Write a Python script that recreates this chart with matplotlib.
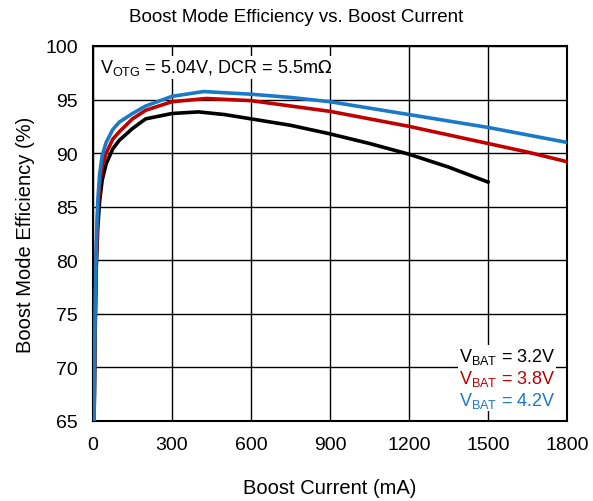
import matplotlib.pyplot as plt

plt.rcParams['font.family'] = ['Liberation Sans', 'DejaVu Sans']

# boost current (mA) and efficiency (%)
cur_32 = [4, 8, 12, 18, 25, 35, 50, 75, 100, 150, 200, 300, 400, 500, 600, 750, 900, 1050, 1200, 1350, 1500]
eff_32 = [65, 73, 79, 83, 85.5, 87.5, 89.0, 90.4, 91.2, 92.3, 93.2, 93.7, 93.85, 93.6, 93.2, 92.6, 91.8, 90.9, 89.9, 88.7, 87.3]

cur_38 = [4, 8, 12, 18, 25, 35, 50, 75, 100, 150, 200, 300, 430, 600, 750, 900, 1050, 1200, 1350, 1500, 1650, 1800]
eff_38 = [65, 74, 80, 84.5, 87, 88.8, 90.0, 91.3, 92.0, 93.2, 94.0, 94.8, 95.1, 94.9, 94.4, 93.9, 93.2, 92.5, 91.7, 90.9, 90.1, 89.2]

cur_42 = [4, 8, 12, 18, 25, 35, 50, 75, 100, 150, 200, 300, 420, 600, 750, 900, 1050, 1200, 1350, 1500, 1650, 1800]
eff_42 = [65, 75, 81, 85.5, 88, 89.8, 91.0, 92.2, 92.9, 93.7, 94.4, 95.3, 95.75, 95.5, 95.2, 94.8, 94.2, 93.6, 93.0, 92.4, 91.7, 91.0]

x_ticks = [0, 300, 600, 900, 1200, 1500, 1800]
y_ticks = [65, 70, 75, 80, 85, 90, 95, 100]

fig = plt.figure(figsize=(5.93, 5.02), dpi=100)
ax = fig.add_axes([93 / 593, 1 - 422 / 502, 474 / 593, 375 / 502])

ax.plot(cur_32, eff_32, color='black', lw=2.6, zorder=3)
ax.plot(cur_38, eff_38, color='#c00000', lw=2.6, zorder=4)
ax.plot(cur_42, eff_42, color='#1a7ac8', lw=2.6, zorder=5)

ax.set_xlim(0, 1800)
ax.set_ylim(65, 100)
ax.set_xticks(x_ticks)
ax.set_yticks(y_ticks)
ax.tick_params(labelsize=14, length=0)
ax.tick_params(axis='x', pad=11)
ax.tick_params(axis='y', pad=11)
ax.grid(True, color='black', lw=1)
for s in ax.spines.values():
    s.set_linewidth(1.5)

# title sits centred on the figure, not the axes
fig.text(0.5, 1 - 17 / 502, 'Boost Mode Efficiency vs. Boost Current', fontsize=13.5,
         ha='center', va='center')
ax.set_xlabel('Boost Current (mA)', fontsize=14.5, labelpad=18)
ax.set_ylabel('Boost Mode Efficiency (%)', fontsize=14.5, labelpad=7)

ax.text(0.015, 0.97, r'V$_{\mathregular{OTG}}$ = 5.04V, DCR = 5.5m$\Omega$', transform=ax.transAxes,
        fontsize=13, va='top', ha='left',
        bbox=dict(facecolor='white', edgecolor='none', pad=1))

legend_items = [('3.2V', 'black'), ('3.8V', '#c00000'), ('4.2V', '#1a7ac8')]
for i, (v, c) in enumerate(legend_items):
    ax.text(0.975, 0.173 - i * 0.0587, r'V$_{\mathregular{BAT}}$ = ' + v, transform=ax.transAxes,
            fontsize=13, color=c, ha='right', va='center',
            bbox=dict(facecolor='white', edgecolor='none', pad=0.5))

fig.savefig('out.png', dpi=100)
